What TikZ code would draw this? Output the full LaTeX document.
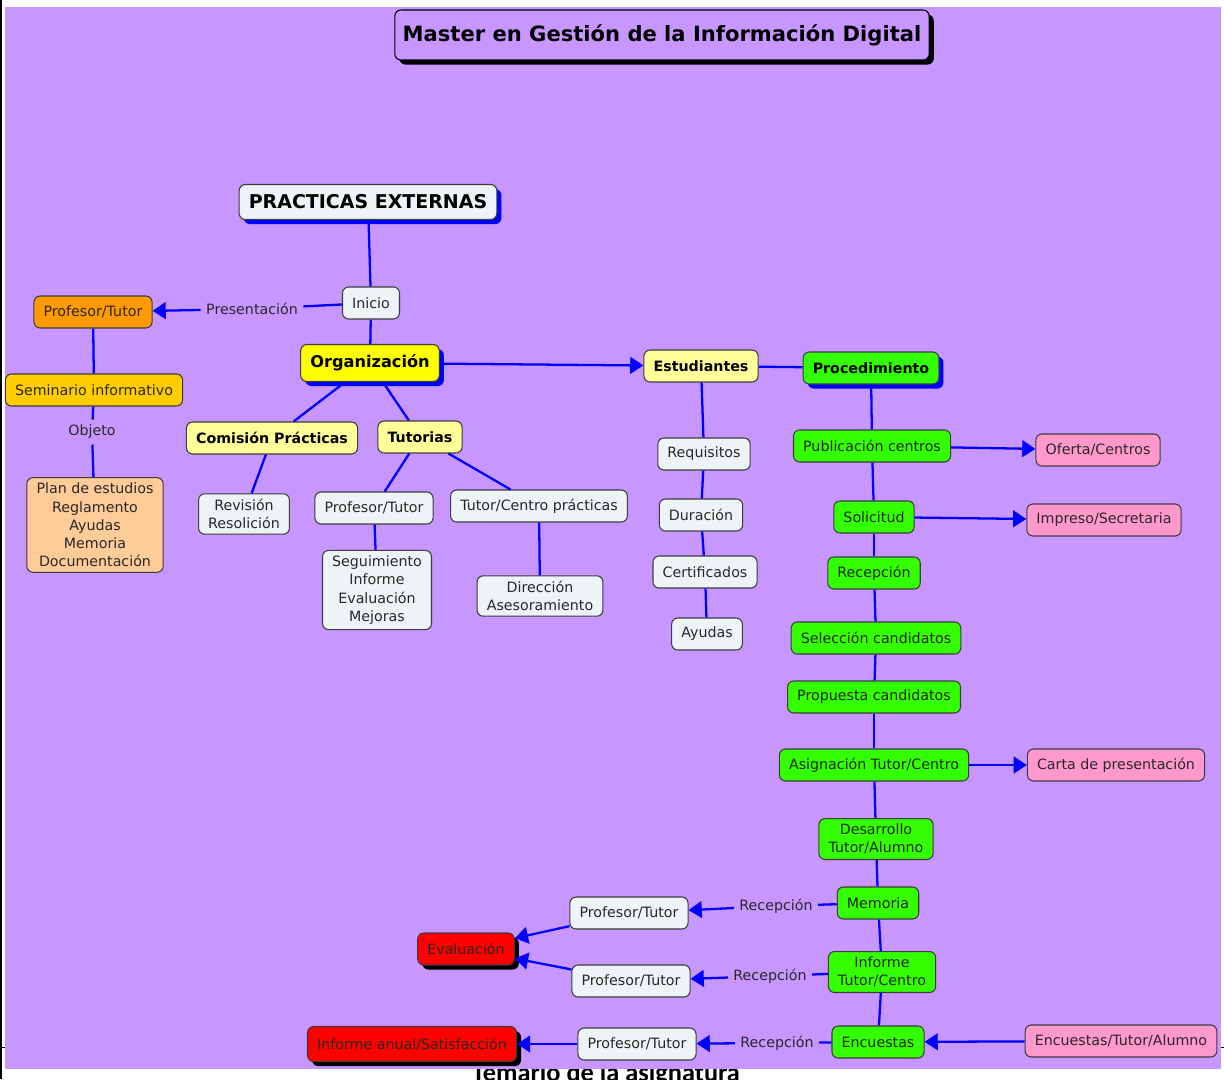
\documentclass[tikz,border=0pt]{standalone}
\usepackage{fontspec}
\setmainfont{DejaVu Sans}
\newfontfamily\footfont{Carlito}
\usetikzlibrary{shapes.geometric, arrows.meta, positioning, shadows}
\definecolor{bgpurple}{RGB}{200, 150, 255}
\definecolor{nodewhite}{RGB}{238, 243, 245}
\definecolor{boxline}{RGB}{60, 60, 60}
\definecolor{textgray}{RGB}{40, 40, 40}
\definecolor{linkblue}{RGB}{0, 0, 255}
\definecolor{orange1}{RGB}{255, 153, 0}
\definecolor{gold1}{RGB}{255, 204, 0}
\definecolor{peach}{RGB}{255, 204, 153}
\definecolor{yellow1}{RGB}{255, 255, 0}
\definecolor{lightyellow}{RGB}{255, 255, 153}
\definecolor{green1}{RGB}{51, 255, 0}
\definecolor{pink1}{RGB}{255, 153, 204}
\definecolor{red1}{RGB}{255, 0, 0}

\begin{document}
\begin{tikzpicture}[x=0.02cm, y=-0.02cm,
    box/.style={rectangle, rounded corners=3.5pt, draw=boxline, line width=0.6pt,
                fill=nodewhite, align=center, text=textgray,
                font=\fontsize{8.1}{10.4}\selectfont,
                inner xsep=5.5pt, inner ysep=3pt, minimum height=0.64cm},
    bbox/.style={box, text=black, font=\fontsize{8.1}{10.4}\selectfont\bfseries},
    lbl/.style={inner sep=3pt, text=textgray, font=\fontsize{8.1}{10.4}\selectfont},
    link/.style={draw=linkblue, line width=1.3pt},
    arr/.style={link, -{Triangle[length=7.5pt, width=9.5pt]}},
    blueshadow/.style={drop shadow={shadow xshift=2.6pt, shadow yshift=-2.6pt,
                       fill=linkblue, opacity=1}},
    blackshadow/.style={drop shadow={shadow xshift=2.6pt, shadow yshift=-2.6pt,
                        fill=black, opacity=1}}]

    \useasboundingbox (0,0) rectangle (1224,1079);
    \clip (0,0) rectangle (1224,1079);

    % Page under the map
    \node[font=\footfont\fontsize{15}{18}\selectfont\bfseries, anchor=base] (foot) at (606,1081) {Temario de la asignatura};
    \draw[black, line width=0.6pt] (0,1047.5) -- (1224,1047.5);
    \draw[black, line width=0.8pt] (1,0) -- (1,1079);
    \fill[bgpurple] (5,7) rectangle (1221,1069);

    % Title
    \node[box, blackshadow, fill=bgpurple, draw=black, text=black, minimum height=1cm,
          inner xsep=4.5pt, font=\fontsize{12}{14}\selectfont\bfseries] (title) at (662,35) {Master en Gestión de la Información Digital};

    % Root
    \node[box, blueshadow, text=black, minimum height=0.7cm,
          font=\fontsize{10.8}{13}\selectfont\bfseries] (root) at (368,202) {PRACTICAS EXTERNAS};
    \node[box] (ini) at (371,303) {Inicio};
    \node[lbl] (pres) at (252,309) {Presentación};

    % Left branch
    \node[box, fill=orange1] (prof) at (93,312) {Profesor/Tutor};
    \node[box, fill=gold1] (sem) at (94,390) {Seminario informativo};
    \node[lbl] (obj) at (92,432) {Objeto};
    \node[box, fill=peach] (plan) at (95,525) {Plan de estudios\\Reglamento\\Ayudas\\Memoria\\Documentación};

    % Organizacion
    \node[box, blueshadow, fill=yellow1, text=black, minimum height=0.74cm,
          font=\fontsize{9.2}{11}\selectfont\bfseries] (org) at (370,363) {Organización};
    \node[bbox, fill=lightyellow] (com) at (272,438) {Comisión Prácticas};
    \node[bbox, fill=lightyellow] (tut) at (420,437) {Tutorias};
    \node[box] (rev) at (244,514) {Revisión\\Resolición};
    \node[box] (tprof) at (374,508) {Profesor/Tutor};
    \node[box] (tcen) at (539,506) {Tutor/Centro prácticas};
    \node[box] (seg) at (377,590) {Seguimiento\\Informe\\Evaluación\\Mejoras};
    \node[box] (dir) at (540,596) {Dirección\\Asesoramiento};

    % Estudiantes
    \node[bbox, fill=lightyellow] (est) at (701,366) {Estudiantes};
    \node[box] (req) at (704,454) {Requisitos};
    \node[box] (dur) at (701,515) {Duración};
    \node[box] (cert) at (705,572) {Certificados};
    \node[box] (ayu) at (707,634) {Ayudas};

    % Procedimiento
    \node[bbox, blueshadow, fill=green1] (proc) at (871,368) {Procedimiento};
    \node[box, fill=green1] (pub) at (872,446) {Publicación centros};
    \node[box, fill=pink1] (ofe) at (1098,450) {Oferta/Centros};
    \node[box, fill=green1] (sol) at (874,517) {Solicitud};
    \node[box, fill=pink1] (imp) at (1104,520) {Impreso/Secretaria};
    \node[box, fill=green1] (rec) at (874,573) {Recepción};
    \node[box, fill=green1] (sel) at (876,638) {Selección candidatos};
    \node[box, fill=green1] (prop) at (874,697) {Propuesta candidatos};
    \node[box, fill=green1] (asig) at (874,765) {Asignación Tutor/Centro};
    \node[box, fill=pink1] (carta) at (1116,765) {Carta de presentación};
    \node[box, fill=green1] (des) at (876,839) {Desarrollo\\Tutor/Alumno};
    \node[box, fill=green1] (mem) at (878,903) {Memoria};
    \node[box, fill=green1] (inf) at (882,972) {Informe\\Tutor/Centro};
    \node[box, fill=green1] (enc) at (878,1042) {Encuestas};
    \node[box, fill=pink1] (encta) at (1121,1041) {Encuestas/Tutor/Alumno};

    % Reception and results
    \node[lbl] (rmem) at (776,906) {Recepción};
    \node[lbl] (rinf) at (770,976) {Recepción};
    \node[lbl] (renc) at (777,1043) {Recepción};
    \node[box] (pt1) at (629,913) {Profesor/Tutor};
    \node[box] (pt2) at (631,981) {Profesor/Tutor};
    \node[box] (pt3) at (637,1044) {Profesor/Tutor};
    \node[box, blackshadow, fill=red1] (eva) at (466,949) {Evaluación};
    \node[box, blackshadow, fill=red1, minimum height=0.7cm] (anual) at (412,1044) {Informe anual/Satisfacción};

    % Connections
    \draw[link] (root) -- (ini);
    \draw[link] (ini) -- (pres);
    \draw[arr] (pres) -- (prof);
    \draw[link] (ini) -- (org);
    \draw[link] (prof) -- (sem);
    \draw[link] (sem) -- (obj);
    \draw[link] (obj) -- (plan);
    \draw[arr] (org) -- (est);
    \draw[link] (org) -- (com);
    \draw[link] (org) -- (tut);
    \draw[link] (com) -- (rev);
    \draw[link] (tut) -- (tprof);
    \draw[link] (tut) -- (tcen);
    \draw[link] (tprof) -- (seg);
    \draw[link] (tcen) -- (dir);
    \draw[link] (est) -- (proc);
    \draw[link] (est) -- (req);
    \draw[link] (req) -- (dur);
    \draw[link] (dur) -- (cert);
    \draw[link] (cert) -- (ayu);
    \draw[link] (proc) -- (pub);
    \draw[arr] (pub) -- (ofe);
    \draw[link] (pub) -- (sol);
    \draw[arr] (sol) -- (imp);
    \draw[link] (sol) -- (rec);
    \draw[link] (rec) -- (sel);
    \draw[link] (sel) -- (prop);
    \draw[link] (prop) -- (asig);
    \draw[arr] (asig) -- (carta);
    \draw[link] (asig) -- (des);
    \draw[link] (des) -- (mem);
    \draw[link] (mem) -- (inf);
    \draw[link] (inf) -- (enc);
    \draw[arr] (encta) -- (enc);
    \draw[link] (mem) -- (rmem);
    \draw[arr] (rmem) -- (pt1);
    \draw[link] (inf) -- (rinf);
    \draw[arr] (rinf) -- (pt2);
    \draw[link] (enc) -- (renc);
    \draw[arr] (renc) -- (pt3);
    \draw[arr] (pt1) -- (eva);
    \draw[arr] (pt2) -- (eva);
    \draw[arr] (pt3) -- (anual);
\end{tikzpicture}
\end{document}
